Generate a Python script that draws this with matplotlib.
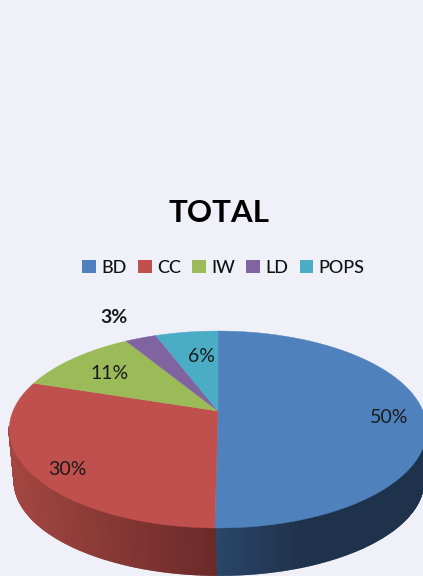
import matplotlib
matplotlib.use('Agg')
import matplotlib.pyplot as plt
from matplotlib.patches import Patch
import numpy as np

plt.rcParams['font.family'] = ['Lato', 'DejaVu Sans']

categories = ['BD', 'CC', 'IW', 'LD', 'POPS']
shares = [50.2, 29.8, 11.3, 2.9, 5.8]
share_labels = ['50%', '30%', '11%', '3%', '6%']
colors = ['#4F81BD', '#C0504D', '#9BBB59', '#8064A2', '#4BACC6']
# wall shading, (x, colour) at both ends of the visible wall
wall_shades = {'BD': ((215, (42, 70, 105)), (300, (31, 50, 75))),
               'CC': ((15, (163, 70, 65)), (215, (106, 42, 40)))}

label_xy = [(389, 416), (67, 468), (110, 372), (114, 316), (201, 355)]
bold_labels = ['3%']

background = '#EFF0F8'
persp = 0.188


# circle seen in perspective, theta runs clockwise from the back of the pie
def project(theta, cx, cy, rx, ry):
    u = np.sin(theta)
    v = np.cos(theta)
    return cx + rx * u / (1 + persp * v), cy - ry * v / (1 + persp * v)


def top_rim(theta):
    return project(theta, 218, 411, 205, 95)


def low_rim(theta):
    return project(theta, 219, 463, 201, 91)


fig = plt.figure(figsize=(4.23, 5.76), dpi=100, facecolor=background)
ax = fig.add_axes([0, 0, 1, 1])
ax.set_xlim(0, 423)
ax.set_ylim(576, 0)
ax.axis('off')

edges = np.cumsum([0] + shares) / sum(shares) * 2 * np.pi

# side walls, only the front half shows
for i, name in enumerate(categories):
    if name not in wall_shades:
        continue
    (x0, c0), (x1, c1) = wall_shades[name]
    start = max(edges[i], 0.55 * np.pi)
    stop = min(edges[i + 1], 1.45 * np.pi)
    steps = np.linspace(start, stop, 140)
    for a, b in zip(steps[:-1], steps[1:]):
        xt, yt = top_rim(np.array([a, b]))
        xl, yl = low_rim(np.array([b, a]))
        xm = (xt.mean() + xl.mean()) / 2
        c = [np.interp(xm, [x0, x1], [c0[k], c1[k]]) / 255 for k in range(3)]
        ax.fill(np.r_[xt, xl], np.r_[yt, yl], color=c, lw=1.2, zorder=2)

# top face
for i in range(len(categories)):
    t = np.linspace(edges[i], edges[i + 1], 200)
    x, y = top_rim(t)
    ax.fill(np.r_[218, x], np.r_[411, y], color=colors[i], lw=0.3, zorder=3)

for txt, (x, y) in zip(share_labels, label_xy):
    ax.text(x, y + 1.5, txt, ha='center', va='center', fontsize=14, color='#1a1a1a',
            fontweight='bold' if txt in bold_labels else 'normal', zorder=5)

ax.text(219, 213, 'TOTAL', ha='center', va='center', fontsize=22.5, fontweight='bold', color='black')

handles = [Patch(facecolor=c, edgecolor='none', label=n) for c, n in zip(colors, categories)]
fig.legend(handles=handles, ncol=5, loc='center', bbox_to_anchor=(223.5 / 423, 1 - 268 / 576),
           frameon=False, handlelength=0.76, handleheight=0.76,
           handletextpad=0.3, columnspacing=0.62, borderpad=0, labelcolor='#111111',
           prop={'family': 'Lato', 'weight': 'medium', 'size': 13})

fig.savefig('out.png', dpi=100, facecolor=background)
